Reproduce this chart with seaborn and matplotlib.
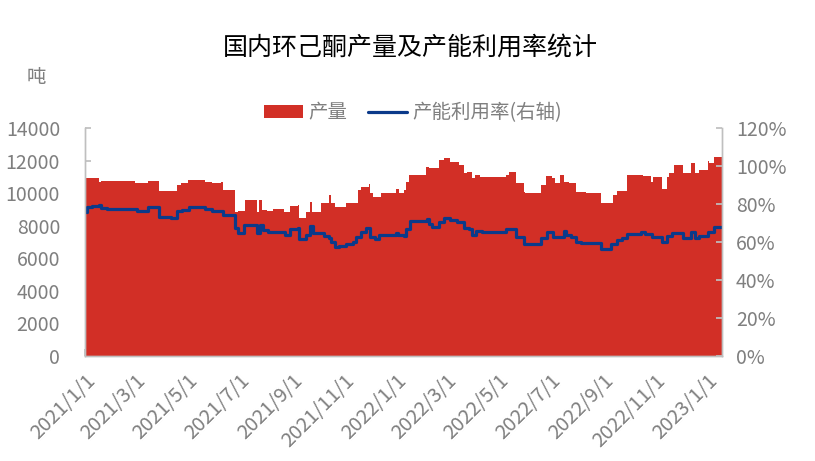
import numpy as np
import pandas as pd
import matplotlib
matplotlib.use("Agg")
import matplotlib.pyplot as plt
import seaborn as sns
from matplotlib.patches import Patch
from matplotlib.lines import Line2D
from matplotlib.ticker import FuncFormatter

# ---------------- data ----------------
title = "国内环己酮产量及产能利用率统计"
unit_label = "吨"
series_names = ["产量", "产能利用率(右轴)"]
start_date = "2021-01-01"
end_day = 748  # last day shown (days since start_date)

# production (tons): change points, days since start_date
prod_days = [0, 16, 19, 59, 74, 87, 108, 113, 121, 141, 149, 160, 162, 176, 180, 188,
             202, 204, 208, 214, 221, 234, 241, 250, 251, 260, 264, 267, 277, 286, 289,
             294, 307, 321, 324, 333, 335, 338, 348, 351, 365, 369, 374, 377, 381, 400,
             404, 416, 422, 429, 439, 445, 449, 455, 458, 464, 494, 498, 506, 515, 517,
             535, 541, 548, 552, 558, 562, 568, 577, 588, 606, 620, 625, 637, 655, 665,
             667, 677, 683, 686, 692, 702, 712, 716, 721, 731, 733, 739]
prod_vals = [10900, 10700, 10750, 10600, 10750, 10130, 10500, 10650, 10800, 10680, 10600,
             10700, 10200, 8860, 8900, 9580, 8860, 9580, 8960, 8900, 9020, 8840, 9200,
             9270, 8450, 8860, 9470, 8860, 9390, 9880, 9390, 9150, 9410, 10200, 10400,
             10540, 9990, 9780, 9990, 10030, 10230, 10000, 10200, 10700, 11110, 11620,
             11540, 12030, 12140, 11930, 11730, 11230, 11320, 10910, 11110, 11010, 11110,
             11320, 10600, 10090, 10030, 10500, 11050, 10900, 10600, 11100, 10700, 10600,
             10090, 10030, 9410, 9880, 10150, 11110, 11050, 10700, 11010, 10230, 11010,
             11220, 11730, 11220, 11830, 11220, 11420, 11990, 11870, 12200]

# capacity utilisation (%): change points, days since start_date
rate_days = [0, 2, 8, 16, 19, 26, 61, 74, 87, 101, 108, 114, 122, 141, 149, 162, 176, 180,
             187, 202, 206, 209, 215, 235, 241, 250, 251, 260, 264, 268, 281, 286, 289, 293,
             298, 307, 315, 318, 324, 330, 335, 340, 345, 365, 368, 374, 377, 382, 402, 404,
             408, 416, 422, 429, 437, 445, 451, 455, 459, 466, 494, 506, 515, 535, 542, 550,
             562, 565, 571, 577, 582, 606, 618, 625, 631, 637, 653, 657, 666, 677, 683, 689,
             692, 702, 712, 716, 721, 731, 733, 739]
rate_vals = [76.0, 78.6, 79.0, 79.5, 77.7, 77.2, 76.5, 78.3, 73.3, 72.8, 76.3, 76.8, 78.3,
             77.2, 76.5, 74.2, 67.2, 64.6, 69.0, 64.6, 69.0, 66.3, 65.4, 63.7, 66.8, 67.2,
             61.4, 63.7, 68.4, 64.6, 63.2, 62.3, 60.2, 57.5, 58.0, 58.9, 60.2, 62.5, 65.4,
             67.2, 62.5, 61.4, 63.7, 65.0, 63.7, 63.2, 67.0, 71.0, 72.0, 69.5, 68.0, 70.7,
             72.5, 71.6, 70.7, 67.2, 66.8, 63.7, 66.0, 65.3, 66.7, 62.8, 58.8, 61.9, 65.4,
             62.4, 65.6, 63.7, 62.5, 60.2, 59.3, 56.1, 58.9, 61.0, 62.0, 64.2, 65.5, 64.2,
             62.5, 60.2, 63.2, 65.0, 64.9, 62.0, 65.5, 62.0, 63.2, 65.5, 65.4, 67.7]

tick_dates = ["2021-01-01", "2021-03-01", "2021-05-01", "2021-07-01", "2021-09-01",
              "2021-11-01", "2022-01-01", "2022-03-01", "2022-05-01", "2022-07-01",
              "2022-09-01", "2022-11-01", "2023-01-01"]
tick_labels = ["2021/1/1", "2021/3/1", "2021/5/1", "2021/7/1", "2021/9/1", "2021/11/1",
               "2022/1/1", "2022/3/1", "2022/5/1", "2022/7/1", "2022/9/1", "2022/11/1",
               "2023/1/1"]
left_ticks = [0, 2000, 4000, 6000, 8000, 10000, 12000, 14000]
right_ticks = [0, 20, 40, 60, 80, 100, 120]

# ---------------- style ----------------
RED = "#D22F26"
BLUE = "#0B3A8A"
GRAY = "#7F7F7F"
SPINE = "#BFBFBF"

sns.set_theme(style="white")
plt.rcParams["font.family"] = ["Noto Sans CJK SC", "DejaVu Sans"]
plt.rcParams["axes.unicode_minus"] = False

base = pd.Timestamp(start_date)
prod_df = pd.DataFrame({
    "date": base + pd.to_timedelta(prod_days + [end_day], unit="D"),
    "value": prod_vals + [prod_vals[-1]],
})
rate_df = pd.DataFrame({
    "date": base + pd.to_timedelta(rate_days + [end_day], unit="D"),
    "value": rate_vals + [rate_vals[-1]],
})

fig = plt.figure(figsize=(8.15, 4.61), dpi=100)
ax = fig.add_axes([85 / 815, 1 - 356 / 461, (722 - 85) / 815, (356 - 128) / 461])
ax2 = ax.twinx()

ax.fill_between(prod_df["date"], prod_df["value"], step="post", color=RED, lw=0)
sns.lineplot(data=rate_df, x="date", y="value", ax=ax2, color=BLUE, lw=2.3,
             drawstyle="steps-post", legend=False)

ax.set_xlim(base, base + pd.Timedelta(days=end_day))
ax.set_ylim(0, 14000)
ax2.set_ylim(0, 120)
ax.set_yticks(left_ticks)
ax.set_yticklabels([str(v) for v in left_ticks])
ax2.set_yticks(right_ticks)
ax2.yaxis.set_major_formatter(FuncFormatter(lambda v, p: f"{v:.0f}%"))
ax.set_xticks(pd.to_datetime(tick_dates))
ax.set_xticklabels(tick_labels, rotation=45, ha="right", rotation_mode="anchor")

for a in (ax, ax2):
    a.set_xlabel("")
    a.set_ylabel("")
    a.grid(False)
    for s in a.spines.values():
        s.set_color(SPINE)
        s.set_linewidth(1.0)
    a.spines["top"].set_visible(False)

ax.tick_params(axis="y", direction="in", length=4, color=SPINE, labelcolor=GRAY,
               labelsize=14, pad=18, left=True)
ax.tick_params(axis="x", direction="in", length=5, color=SPINE, labelcolor=GRAY,
               labelsize=14.5, pad=10, bottom=True)
ax2.tick_params(axis="y", direction="in", length=4, color=SPINE, labelcolor=GRAY,
                labelsize=14, pad=10, right=True)

fig.text(410 / 815, 1 - 48 / 461, title, ha="center", va="center", fontsize=18,
         color="black")
fig.text(36 / 815, 1 - 78 / 461, unit_label, ha="center", va="center", fontsize=14,
         color=GRAY)

handles = [Patch(facecolor=RED, edgecolor="none"), Line2D([0], [0], color=BLUE, lw=2.3)]
fig.legend(handles, series_names, loc="center", bbox_to_anchor=(413 / 815, 1 - 113 / 461),
           ncol=2, frameon=False, fontsize=14, labelcolor=GRAY, handlelength=2.0,
           handletextpad=0.25, columnspacing=1.1)

fig.savefig("out.png", dpi=100)
